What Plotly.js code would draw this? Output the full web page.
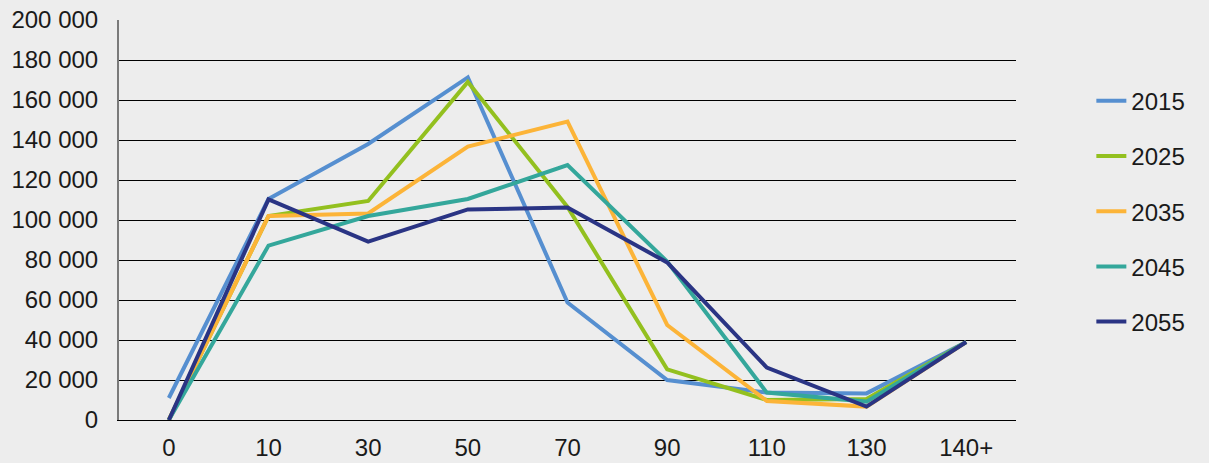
<!DOCTYPE html>
<html>
<head>
<meta charset="utf-8">
<script src="https://cdn.plot.ly/plotly-3.0.1.min.js"></script>
<style>html,body{margin:0;padding:0;background:#ededed;}#chart{width:1209px;height:463px;}</style>
</head>
<body>
<div id="chart"></div>
<script>
const categories = ["0", "10", "30", "50", "70", "90", "110", "130", "140+"];
const seriesNames = ["2015", "2025", "2035", "2045", "2055"];
const v2015 = [11000, 110500, 138000, 171300, 58700, 20000, 13700, 13300, 39000];
const v2025 = [0, 102000, 109500, 169000, 106500, 25300, 10000, 10500, 39000];
const v2035 = [0, 102000, 103300, 136700, 149200, 47500, 9500, 6700, 39000];
const v2045 = [0, 87200, 102000, 110500, 127500, 79200, 13700, 9200, 39000];
const v2055 = [0, 110300, 89200, 105300, 106200, 78800, 26200, 6700, 39000];
const colors = ["#568fd0", "#93c01f", "#fcb438", "#34a79b", "#2a3484"];
const values = [v2015, v2025, v2035, v2045, v2055];

const traces = values.map((v, i) => ({
  type: "scatter",
  mode: "lines",
  x: categories,
  y: v,
  name: seriesNames[i],
  legendgroup: "g" + i,
  line: {color: colors[i], width: 4}
}));

const font = {family: "Liberation Sans, Arial, sans-serif", size: 24, color: "#1a1a1a"};

const layout = {
  width: 1209,
  height: 463,
  paper_bgcolor: "#ededed",
  plot_bgcolor: "#ededed",
  margin: {l: 119, r: 193, t: 20, b: 43},
  font: font,
  separators: ", ",
  showlegend: true,
  legend: {
    x: 1.084, xanchor: "left",
    y: 0.522, yanchor: "middle",
    font: font,
    traceorder: "grouped",
    tracegroupgap: 21,
    bgcolor: "rgba(0,0,0,0)"
  },
  xaxis: {
    type: "category",
    range: [-0.5, 8.5],
    showgrid: false,
    showline: true,
    linecolor: "#000000",
    linewidth: 1,
    ticks: "",
    ticklabelstandoff: 6,
    tickfont: font,
    fixedrange: true
  },
  yaxis: {
    range: [0, 200000],
    dtick: 20000,
    tick0: 0,
    tickformat: ",.0f",
    showgrid: true,
    gridcolor: "#000000",
    gridwidth: 1,
    zeroline: false,
    showline: true,
    linecolor: "#7a7a7a",
    linewidth: 2,
    ticks: "",
    ticklabelstandoff: 14,
    tickfont: font,
    fixedrange: true
  }
};

Plotly.newPlot("chart", traces, layout, {displayModeBar: false, staticPlot: true});
</script>
</body>
</html>
